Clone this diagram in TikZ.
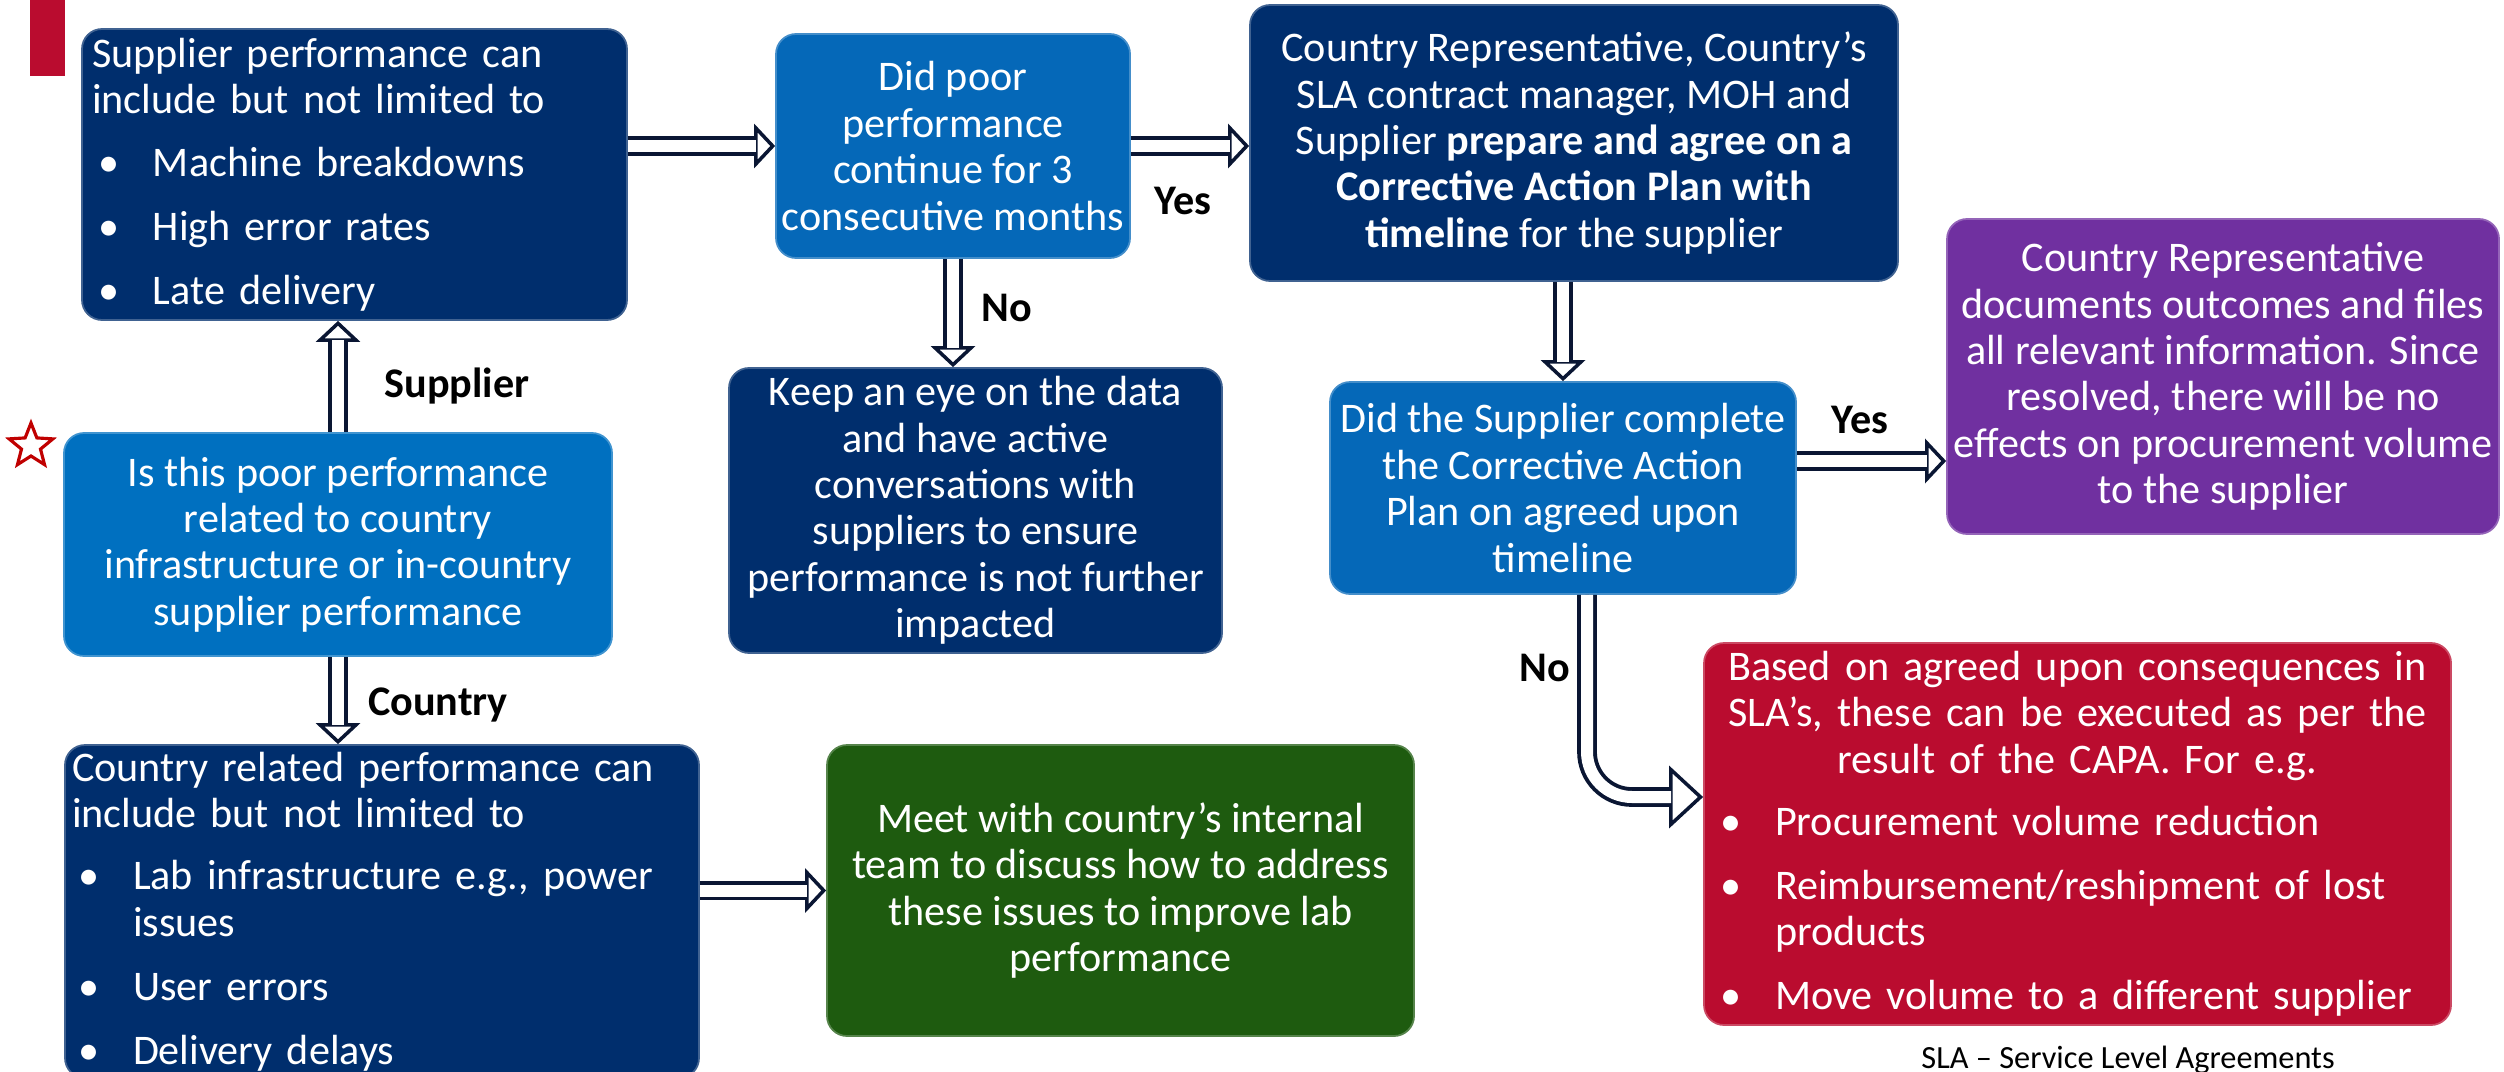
\documentclass[tikz,border=0pt]{standalone}
\usepackage{fontspec}
\setmainfont{Carlito}
\usepackage{tikz}
\usetikzlibrary{arrows.meta, shapes.geometric}
\definecolor{navycol}{HTML}{002E6D}
\definecolor{deccol}{HTML}{0568B8}
\definecolor{startcol}{HTML}{0070C0}
\definecolor{purpcol}{HTML}{7030A0}
\definecolor{redcol}{HTML}{BA0C2F}
\definecolor{greencol}{HTML}{1E5B0F}
\definecolor{arrcol}{HTML}{0A1633}
\definecolor{starcol}{HTML}{C00000}
% bullet line and its continuation
\newcommand{\bitem}[1]{\makebox[\linewidth][l]{\hspace*{0.06cm}\makebox[0.55cm][l]{\textbullet}#1}}
\newcommand{\bcont}[1]{\makebox[\linewidth][l]{\hspace*{0.61cm}#1}}

\begin{document}
\begin{tikzpicture}[
  flowbox/.style={rounded corners=0.2cm, fill=#1, draw=#1!75!white, line width=0.5pt,
    text=white, font=\fontsize{12}{13.2}\selectfont, inner xsep=0.04cm, inner ysep=0pt},
  lbl/.style={font=\fontsize{12}{13.2}\selectfont\bfseries, inner sep=0pt},
  arrline/.style={draw=arrcol, line width=1pt, -{Triangle[fill=white, length=0.21cm, width=0.44cm]}},
  arrshaft/.style={draw=arrcol, line width=1.1pt, double=white, double distance=0.12cm, shorten >=0.19cm}
]
\useasboundingbox (0,0) rectangle (25.04,-10.71);
\clip (0,0) rectangle (25.04,-10.71);

\fill[redcol] (0.30,0) rectangle (0.65,-0.76);
\node[star, star points=5, star point ratio=2.3, draw=starcol, fill=white, line width=0.9pt,
  minimum size=0.46cm, inner sep=0pt] (star) at (0.31,-4.46) {};

% supplier side
\node[flowbox=navycol, inner xsep=0.1cm, text width=5.25cm, minimum height=2.91cm, align=left] (supp) at (3.545,-1.745)
  {Supplier performance can\\ include but not limited to\\[4.5pt]
   \bitem{Machine breakdowns}\\[5pt] \bitem{High error rates}\\[5pt] \bitem{Late delivery}};
\node[flowbox=deccol, minimum width=3.54cm, minimum height=2.24cm, align=center] (dec1) at (9.53,-1.46)
  {Did poor\\ performance\\ continue for 3\\ consecutive months};
\node[flowbox=navycol, minimum width=6.48cm, minimum height=2.76cm, align=center] (capa) at (15.74,-1.43)
  {Country Representative, Country's\\ SLA contract manager, MOH and\\
   Supplier \textbf{prepare and agree on a}\\ \textbf{Corrective Action Plan with}\\
   \textbf{timeline} for the supplier};
\node[flowbox=startcol, minimum width=5.48cm, minimum height=2.23cm, align=center] (start) at (3.38,-5.445)
  {Is this poor performance\\ related to country\\ infrastructure or in-country\\ supplier performance};
\node[flowbox=navycol, minimum width=4.93cm, minimum height=2.85cm, align=center] (keep) at (9.755,-5.105)
  {Keep an eye on the data\\ and have active\\ conversations with\\ suppliers to ensure\\
   performance is not further\\ impacted};
\node[flowbox=deccol, minimum width=4.66cm, minimum height=2.12cm, align=center] (dec2) at (15.63,-4.88)
  {Did the Supplier complete\\ the Corrective Action\\ Plan on agreed upon\\ timeline};
\node[flowbox=purpcol, minimum width=5.52cm, minimum height=3.15cm, align=center] (purp) at (22.23,-3.765)
  {Country Representative\\ documents outcomes and files\\ all relevant information. Since\\
   resolved, there will be no\\ effects on procurement volume\\ to the supplier};

% country side
\node[flowbox=navycol, inner xsep=0.07cm, text width=6.20cm, minimum height=3.33cm, align=left] (ctry) at (3.82,-9.115)
  {Country related performance can\\ include but not limited to\\[4.5pt]
   \bitem{Lab infrastructure e.g., power}\\ \bcont{issues}\\[5pt]
   \bitem{User errors}\\[5pt] \bitem{Delivery delays}};
\node[flowbox=greencol, minimum width=5.87cm, minimum height=2.91cm, align=center] (meet) at (11.205,-8.905)
  {Meet with country's internal\\ team to discuss how to address\\ these issues to improve lab\\ performance};
\node[flowbox=redcol, inner xsep=0.1cm, text width=7.27cm, minimum height=3.82cm, align=center] (red) at (20.775,-8.34)
  {Based on agreed upon consequences in\\ SLA's, these can be executed as per the\\ result of the CAPA. For e.g.\\[4.5pt]
   \bitem{Procurement volume reduction}\\[5pt] \bitem{Reimbursement/reshipment of lost}\\
   \bcont{products}\\[5pt] \bitem{Move volume to a different supplier}};

\coordinate (yesout) at ([yshift=0.27cm]dec2.east);
\coordinate (noout) at ([xshift=0.24cm]dec2.south);
\coordinate (noin) at ([yshift=0.37cm]red.west);

% block arrows: tip first, then the hollow shaft on top
\foreach \a/\b in {supp.east |- dec1.west/dec1.west, dec1.east/dec1.east -| capa.west,
    dec1.south/dec1.south |- keep.north, start.north/start.north |- supp.south,
    start.south/start.south |- ctry.north, ctry.east |- meet.west/meet.west,
    dec2.north |- capa.south/dec2.north, yesout/yesout -| purp.west}
{
  \draw[arrline] (\a) -- (\b);
  \draw[arrshaft] (\a) -- (\b);
}
\draw[arrline, -{Triangle[fill=white, length=0.34cm, width=0.62cm]}, rounded corners=0.45cm] (noout) |- (noin);
\draw[arrshaft, shorten >=0.32cm, rounded corners=0.45cm] (noout) |- (noin);

\node[lbl] (yes1) at (11.83,-2.01) {Yes};
\node[lbl] (no1) at (10.07,-3.08) {No};
\node[lbl] (lsupp) at (4.57,-3.86) {Supplier};
\node[lbl] (lctry) at (4.38,-7.05) {Country};
\node[lbl] (yes2) at (18.60,-4.20) {Yes};
\node[lbl] (no2) at (15.45,-6.68) {No};

\node[font=\fontsize{9.2}{11}\selectfont, anchor=base, inner sep=0pt] (sla) at (21.28,-10.68) {SLA -- Service Level Agreements};

\end{tikzpicture}
\end{document}
